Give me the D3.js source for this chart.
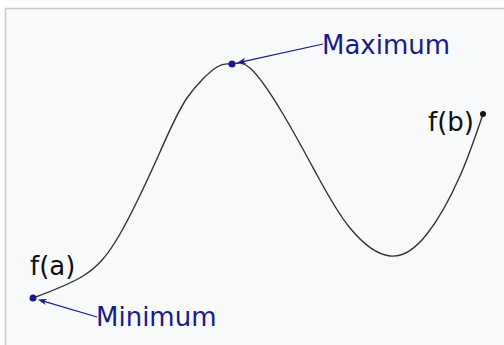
<!DOCTYPE html>
<html>
<head>
<meta charset="utf-8">
<script src="https://cdn.jsdelivr.net/npm/d3@7"></script>
<style>
  html, body { margin: 0; padding: 0; background: #ffffff; }
  svg { display: block; }
  text { font-family: "DejaVu Sans", sans-serif; }
</style>
</head>
<body>
<script>
// Sample points of f on [a, b] (horizontal position, function value)
const xValues = [0, 50, 87, 127, 154, 184, 199, 217, 250, 284, 317, 357, 394, 427, 450];
const yValues = [0, 22, 64, 146, 200, 231, 234, 230, 184, 123, 70, 42, 64, 122, 184];

// Annotated points: [x, y]
const minPoint = [0, 0];      // f(a), absolute minimum
const maxPoint = [199, 234];  // absolute maximum
const endPoint = [450, 184];  // f(b)

const labels = ["f(a)", "f(b)", "Minimum", "Maximum"];

const W = 504, H = 345;
const svg = d3.select("body").append("svg").attr("width", W).attr("height", H);

// Panel
svg.append("rect").attr("x", 5.5).attr("y", 8.5).attr("width", W + 10).attr("height", H + 10)
  .attr("fill", "#f8f9fa").attr("stroke", "#c8ccd1").attr("stroke-width", 1.6);

const x = d3.scaleLinear().domain([0, 450]).range([33, 483]);
const y = d3.scaleLinear().domain([0, 234]).range([298, 64]);

const blue = "#1a1a8f";

const data = xValues.map((v, i) => [v, yValues[i]]);
const line = d3.line().x(d => x(d[0])).y(d => y(d[1])).curve(d3.curveNatural);

svg.append("path").datum(data).attr("d", line)
  .attr("fill", "none").attr("stroke", "#333").attr("stroke-width", 1.4);

// Arrows from labels to the extrema
function arrow(fromX, fromY, pt, gap) {
  const px = x(pt[0]), py = y(pt[1]);
  const dx = fromX - px, dy = fromY - py, len = Math.hypot(dx, dy);
  const ux = dx / len, uy = dy / len;
  const tx = px + ux * gap, ty = py + uy * gap;
  svg.append("line")
    .attr("x1", tx + ux * 4).attr("y1", ty + uy * 4)
    .attr("x2", fromX).attr("y2", fromY)
    .attr("stroke", blue).attr("stroke-width", 1.2);
  // arrowhead: tip at (tx, ty), back along the line
  const L = 9, Wd = 3.2, n = 6.5;
  const bx = tx + ux * L, by = ty + uy * L;
  const nx = tx + ux * n, ny = ty + uy * n;
  svg.append("path")
    .attr("d", `M${tx},${ty} L${bx - uy * Wd},${by + ux * Wd} L${nx},${ny} L${bx + uy * Wd},${by - ux * Wd} Z`)
    .attr("fill", blue);
}
arrow(323, 44, maxPoint, 5);
arrow(97, 317, minPoint, 5);

// Points
svg.append("circle").attr("cx", x(minPoint[0])).attr("cy", y(minPoint[1])).attr("r", 3.5).attr("fill", blue);
svg.append("circle").attr("cx", x(maxPoint[0])).attr("cy", y(maxPoint[1])).attr("r", 3.5).attr("fill", blue);
svg.append("circle").attr("cx", x(endPoint[0])).attr("cy", y(endPoint[1])).attr("r", 3).attr("fill", "#111");

// Labels
const fs = 26;
svg.append("text").attr("x", 30).attr("y", 275).attr("font-size", fs).attr("fill", "#111").text(labels[0]);
svg.append("text").attr("x", 474).attr("y", 131).attr("text-anchor", "end").attr("font-size", fs).attr("fill", "#111").text(labels[1]);
svg.append("text").attr("x", 96).attr("y", 326).attr("font-size", fs).attr("fill", blue).text(labels[2]);
svg.append("text").attr("x", 322).attr("y", 54).attr("font-size", fs).attr("fill", blue).text(labels[3]);
</script>
</body>
</html>
